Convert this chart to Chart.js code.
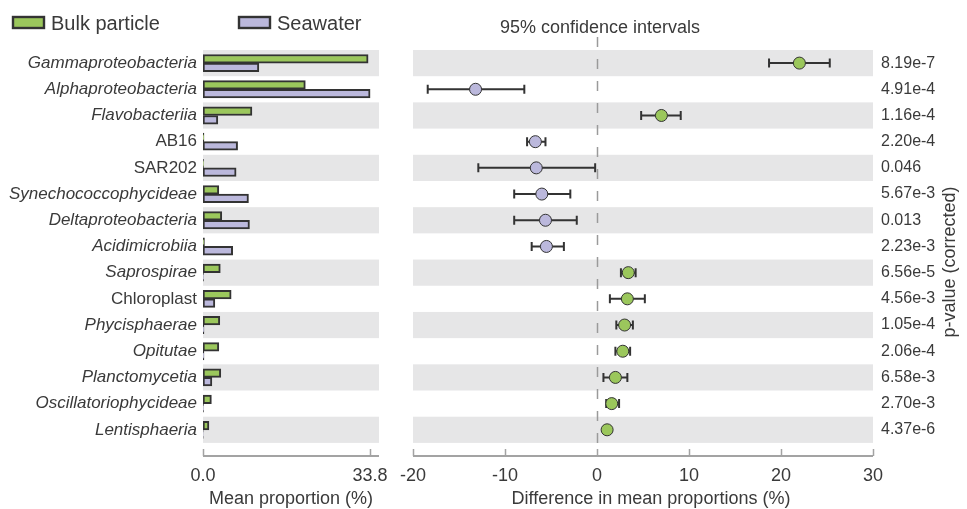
<!DOCTYPE html>
<html>
<head>
<meta charset="utf-8">
<script src="https://cdn.jsdelivr.net/npm/chart.js@4.4.1/dist/chart.umd.min.js"></script>
<style>
  html, body { margin: 0; padding: 0; background: #ffffff; }
  #wrap { position: relative; width: 967px; height: 509px; overflow: hidden; }
  #left { position: absolute; left: 0; top: 0; }
  #right { position: absolute; left: 400px; top: 0; }
</style>
</head>
<body>
<div id="wrap">
  <canvas id="left" width="400" height="509"></canvas>
  <canvas id="right" width="567" height="509"></canvas>
</div>
<script>
// Taxonomic classes compared between the two sample types
const categories = [
  'Gammaproteobacteria', 'Alphaproteobacteria', 'Flavobacteriia', 'AB16', 'SAR202',
  'Synechococcophycideae', 'Deltaproteobacteria', 'Acidimicrobiia', 'Saprospirae',
  'Chloroplast', 'Phycisphaerae', 'Opitutae', 'Planctomycetia',
  'Oscillatoriophycideae', 'Lentisphaeria'
];
// Names that are not set in italics
const uprightNames = ['AB16', 'SAR202', 'Chloroplast'];

// Mean proportion (%) per group
const bulkMean = [33.4, 20.7, 9.9, 0.2, 0.1, 3.2, 3.8, 0.3, 3.5, 5.7, 3.4, 3.2, 3.6, 1.7, 1.2];
const seaMean  = [11.3, 33.8, 3.0, 7.0, 6.7, 9.2, 9.4, 6.0, 0.1, 2.4, 0.2, 0.2, 1.8, 0.1, 0.05];
const meanTicks = [0, 33.8];

// Difference in mean proportions (%) with 95% confidence interval
const diffMean = [22.0, -13.2, 7.0, -6.7, -6.6, -6.0, -5.6, -5.5, 3.4, 3.3, 3.0, 2.8, 2.0, 1.6, 1.1];
const ciLow    = [18.7, -18.4, 4.8, -7.6, -12.9, -9.0, -9.0, -7.1, 2.6, 1.4, 2.1, 2.0, 0.7, 1.0, 0.8];
const ciHigh   = [25.3, -7.9, 9.1, -5.6, -0.2, -2.9, -2.2, -3.6, 4.2, 5.2, 3.9, 3.6, 3.3, 2.4, 1.4];
const diffTicks = [-20, -10, 0, 10, 20, 30];

// Corrected p-values
const pValues = ['8.19e-7', '4.91e-4', '1.16e-4', '2.20e-4', '0.046', '5.67e-3', '0.013',
  '2.23e-3', '6.56e-5', '4.56e-3', '1.05e-4', '2.06e-4', '6.58e-3', '2.70e-3', '4.37e-6'];

const groupNames = ['Bulk particle', 'Seawater'];

const GREEN = '#9bc75c';
const LAVENDER = '#bbb8dc';
const EDGE = '#333333';
const BAND = '#e6e6e7';
const AXIS = '#a3a3a3';
const TEXT = '#3a3a3a';
const FAMILY = '"Liberation Sans", Arial, Helvetica, sans-serif';

Chart.defaults.font.family = FAMILY;
Chart.defaults.color = TEXT;

// Shared row scale: one unit per taxon, extra space below the last row
function rowScale(position, labelFn, fontFn, pad) {
  return {
    type: 'linear',
    position: position,
    min: -0.5,
    max: 15,
    reverse: true,
    offset: false,
    grid: { display: false, drawTicks: false, offset: false },
    border: { display: false },
    afterBuildTicks: s => { s.ticks = categories.map((c, i) => ({ value: i })); },
    ticks: {
      autoSkip: false,
      padding: pad,
      color: TEXT,
      font: fontFn,
      callback: (v, i) => labelFn(i)
    }
  };
}

// Alternating grey bands behind every other row
const bandsPlugin = {
  id: 'bands',
  beforeDatasetsDraw(chart) {
    const { ctx, chartArea } = chart;
    const y = chart.scales.y;
    ctx.save();
    ctx.fillStyle = BAND;
    for (let i = 0; i < categories.length; i += 2) {
      const top = y.getPixelForValue(i - 0.5);
      const bot = y.getPixelForValue(i + 0.5);
      ctx.fillRect(chartArea.left, top, chartArea.right - chartArea.left, bot - top);
    }
    ctx.restore();
  }
};

// Bottom axis line with short inward tick marks
const axisPlugin = {
  id: 'axisLine',
  afterDraw(chart, args, opts) {
    const { ctx, chartArea } = chart;
    const x = chart.scales.x;
    const yb = chartArea.bottom;
    ctx.save();
    ctx.strokeStyle = AXIS;
    ctx.lineWidth = 2;
    ctx.beginPath();
    ctx.moveTo(chartArea.left, yb);
    ctx.lineTo(chartArea.right, yb);
    ctx.stroke();
    ctx.lineWidth = 1.5;
    x.ticks.forEach(t => {
      const px = Math.round(x.getPixelForValue(t.value)) + 0.5;
      ctx.beginPath();
      ctx.moveTo(px, yb - 7);
      ctx.lineTo(px, yb);
      ctx.stroke();
    });
    // axis title
    ctx.fillStyle = TEXT;
    ctx.font = '18px ' + FAMILY;
    ctx.textAlign = 'center';
    ctx.textBaseline = 'alphabetic';
    ctx.fillText(opts.title, (chartArea.left + chartArea.right) / 2 + (opts.shift || 0), 504);
    ctx.restore();
  }
};

// Group legend across the top of the left panel
const legendPlugin = {
  id: 'groupLegend',
  afterDraw(chart) {
    const { ctx } = chart;
    const items = [
      { x: 13, color: GREEN, label: groupNames[0] },
      { x: 239, color: LAVENDER, label: groupNames[1] }
    ];
    ctx.save();
    items.forEach(it => {
      ctx.fillStyle = it.color;
      ctx.fillRect(it.x, 17, 31, 11);
      ctx.strokeStyle = EDGE;
      ctx.lineWidth = 2.4;
      ctx.strokeRect(it.x, 17, 31, 11);
      ctx.fillStyle = TEXT;
      ctx.font = '20px ' + FAMILY;
      ctx.textAlign = 'left';
      ctx.textBaseline = 'alphabetic';
      ctx.fillText(it.label, it.x + 38, 30);
    });
    ctx.restore();
  }
};

// Zero reference line, confidence interval whiskers and panel captions
const intervalPlugin = {
  id: 'intervals',
  beforeDatasetsDraw(chart) {
    const { ctx, chartArea } = chart;
    const x = chart.scales.x, y = chart.scales.y;
    const zx = Math.round(x.getPixelForValue(0)) + 0.5;
    ctx.save();
    ctx.strokeStyle = '#9a9a9a';
    ctx.lineWidth = 1.5;
    ctx.setLineDash([10, 12]);
    ctx.beginPath();
    ctx.moveTo(zx, 37);
    ctx.lineTo(zx, chartArea.bottom);
    ctx.stroke();
    ctx.setLineDash([]);
    ctx.strokeStyle = EDGE;
    ctx.lineWidth = 2;
    for (let i = 0; i < categories.length; i++) {
      const py = y.getPixelForValue(i);
      const x0 = x.getPixelForValue(ciLow[i]);
      const x1 = x.getPixelForValue(ciHigh[i]);
      ctx.beginPath();
      ctx.moveTo(x0, py); ctx.lineTo(x1, py);
      ctx.moveTo(x0, py - 4.5); ctx.lineTo(x0, py + 4.5);
      ctx.moveTo(x1, py - 4.5); ctx.lineTo(x1, py + 4.5);
      ctx.stroke();
    }
    ctx.restore();
  },
  afterDraw(chart) {
    const { ctx } = chart;
    const x = chart.scales.x;
    ctx.save();
    ctx.fillStyle = TEXT;
    ctx.font = '18px ' + FAMILY;
    ctx.textAlign = 'center';
    ctx.textBaseline = 'alphabetic';
    ctx.fillText('95% confidence intervals', x.getPixelForValue(0) + 3, 33);
    ctx.translate(chart.width - 12, 262);
    ctx.rotate(-Math.PI / 2);
    ctx.fillText('p-value (corrected)', 0, 0);
    ctx.restore();
  }
};

const zeroPad = s => { s.paddingLeft = 0; s.paddingRight = 0; s.paddingTop = 0; s.paddingBottom = 0; };

// Left panel: mean proportions per group
new Chart(document.getElementById('left'), {
  type: 'bar',
  data: {
    datasets: [
      {
        label: groupNames[0],
        data: bulkMean.map((v, i) => ({ x: v, y: i })),
        backgroundColor: GREEN,
        borderColor: EDGE,
        borderWidth: 2,
        borderSkipped: false
      },
      {
        label: groupNames[1],
        data: seaMean.map((v, i) => ({ x: v, y: i })),
        backgroundColor: LAVENDER,
        borderColor: EDGE,
        borderWidth: 2,
        borderSkipped: false
      }
    ]
  },
  options: {
    indexAxis: 'y',
    responsive: false,
    animation: false,
    devicePixelRatio: 1,
    barThickness: 8.6,
    layout: { padding: { left: 0, top: 50, right: 21, bottom: 0 } },
    plugins: {
      legend: { display: false },
      tooltip: { enabled: false },
      axisLine: { title: 'Mean proportion (%)' }
    },
    scales: {
      x: {
        type: 'linear',
        position: 'bottom',
        min: 0,
        max: 35.6,
        grid: { display: false, drawTicks: false },
        border: { display: false },
        afterBuildTicks: s => { s.ticks = meanTicks.map(v => ({ value: v })); },
        afterFit: s => { s.height = 53; zeroPad(s); },
        ticks: {
          padding: 9,
          color: TEXT,
          font: { size: 18 },
          callback: v => v.toFixed(1)
        }
      },
      y: Object.assign(
        rowScale('left', i => categories[i],
          ctx => ({ size: 17, family: FAMILY,
            style: uprightNames.includes(categories[ctx.index]) ? 'normal' : 'italic' }), 6),
        { afterFit: s => { s.width = 203; zeroPad(s); } })
    }
  },
  plugins: [bandsPlugin, axisPlugin, legendPlugin]
});

// Right panel: difference in mean proportions with confidence intervals
new Chart(document.getElementById('right'), {
  type: 'scatter',
  data: {
    datasets: [{
      data: diffMean.map((v, i) => ({ x: v, y: i })),
      pointRadius: 6,
      pointHoverRadius: 6,
      pointBorderWidth: 1,
      pointBorderColor: EDGE,
      pointBackgroundColor: diffMean.map(v => v >= 0 ? GREEN : LAVENDER)
    }]
  },
  options: {
    responsive: false,
    animation: false,
    devicePixelRatio: 1,
    layout: { padding: { left: 13, top: 50, right: 0, bottom: 0 } },
    plugins: {
      legend: { display: false },
      tooltip: { enabled: false },
      axisLine: { title: 'Difference in mean proportions (%)', shift: 8 }
    },
    scales: {
      x: {
        type: 'linear',
        position: 'bottom',
        min: -20,
        max: 30,
        grid: { display: false, drawTicks: false },
        border: { display: false },
        afterBuildTicks: s => { s.ticks = diffTicks.map(v => ({ value: v })); },
        afterFit: s => { s.height = 53; zeroPad(s); },
        ticks: { padding: 9, color: TEXT, font: { size: 18 } }
      },
      y: Object.assign(
        rowScale('right', i => pValues[i], { size: 16, family: FAMILY }, 8),
        { afterFit: s => { s.width = 94; zeroPad(s); } })
    }
  },
  plugins: [bandsPlugin, intervalPlugin, axisPlugin]
});
</script>
</body>
</html>
